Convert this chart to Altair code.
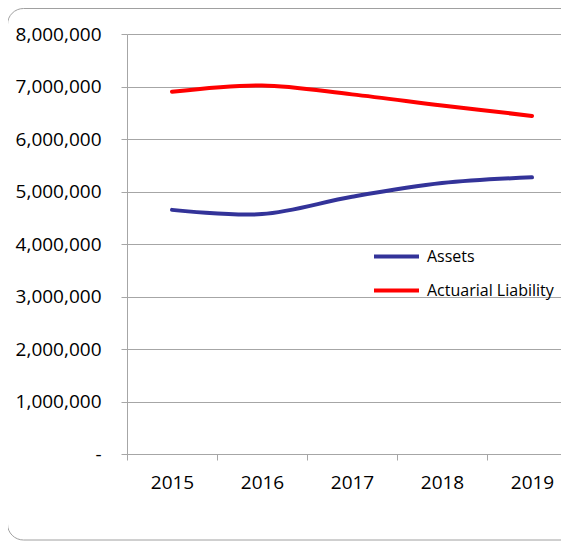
import altair as alt
import pandas as pd

years = ["2015", "2016", "2017", "2018", "2019"]
assets = [4650000, 4570000, 4900000, 5160000, 5270000]
liability = [6900000, 7020000, 6850000, 6640000, 6440000]
series_names = ["Assets", "Actuarial Liability"]
series_colors = ["#333399", "#FF0000"]
y_ticks = [0, 1000000, 2000000, 3000000, 4000000, 5000000, 6000000, 7000000, 8000000]

rows = []
for name, vals in zip(series_names, [assets, liability]):
    for yr, v in zip(years, vals):
        rows.append({"year": yr, "value": v, "series": name})
df = pd.DataFrame(rows)

FONT = "Open Sans"
GRID = "#A6A6A6"

border = alt.Chart(alt.Data(values=[{}])).mark_rect(
    fill=None, stroke="#A0A0A0", strokeWidth=1, cornerRadius=16, clip=False
).encode(
    x=alt.value(-119.5), x2=alt.value(452), y=alt.value(-25.5), y2=alt.value(506)
)

lines = alt.Chart(df).mark_line(
    interpolate="catmull-rom", strokeWidth=4, strokeCap="round"
).encode(
    x=alt.X(
        "year:O",
        bandPosition=0.5,
        scale=alt.Scale(type="band", domain=years, range=[0, 450], paddingInner=0, paddingOuter=0),
        axis=alt.Axis(
            title=None, labelAngle=0, tickBand="extent", grid=False,
            domainColor=GRID, tickColor=GRID, tickSize=6,
            labelFont=FONT, labelFontSize=19, labelColor="#000000", labelPadding=13,
        ),
    ),
    y=alt.Y(
        "value:Q",
        scale=alt.Scale(domain=[0, 8000000], nice=False),
        axis=alt.Axis(
            title=None, values=y_ticks, grid=True, gridColor=GRID,
            domainColor=GRID, tickColor=GRID, tickSize=6,
            labelFont=FONT, labelFontSize=19, labelColor="#000000", labelPadding=20,
            labelExpr="datum.value == 0 ? '-' : format(datum.value, ',')",
        ),
    ),
    color=alt.Color(
        "series:N",
        scale=alt.Scale(domain=series_names, range=series_colors),
        legend=alt.Legend(
            orient="none", legendX=245, legendY=198, title=None,
            symbolType="stroke", symbolSize=2025, symbolStrokeWidth=4,
            labelFont=FONT, labelFontSize=16, labelColor="#000000",
            labelOffset=6, rowPadding=1,
        ),
    ),
    order=alt.Order("year:O"),
)

chart = alt.layer(border, lines).properties(
    width=434, height=420,
    autosize=alt.AutoSizeParams(type="none"),
    padding={"left": 119, "top": 26, "right": 0, "bottom": 87},
).configure_view(stroke=None)

chart.save("out.html", embed_options={"renderer": "svg", "actions": False})
